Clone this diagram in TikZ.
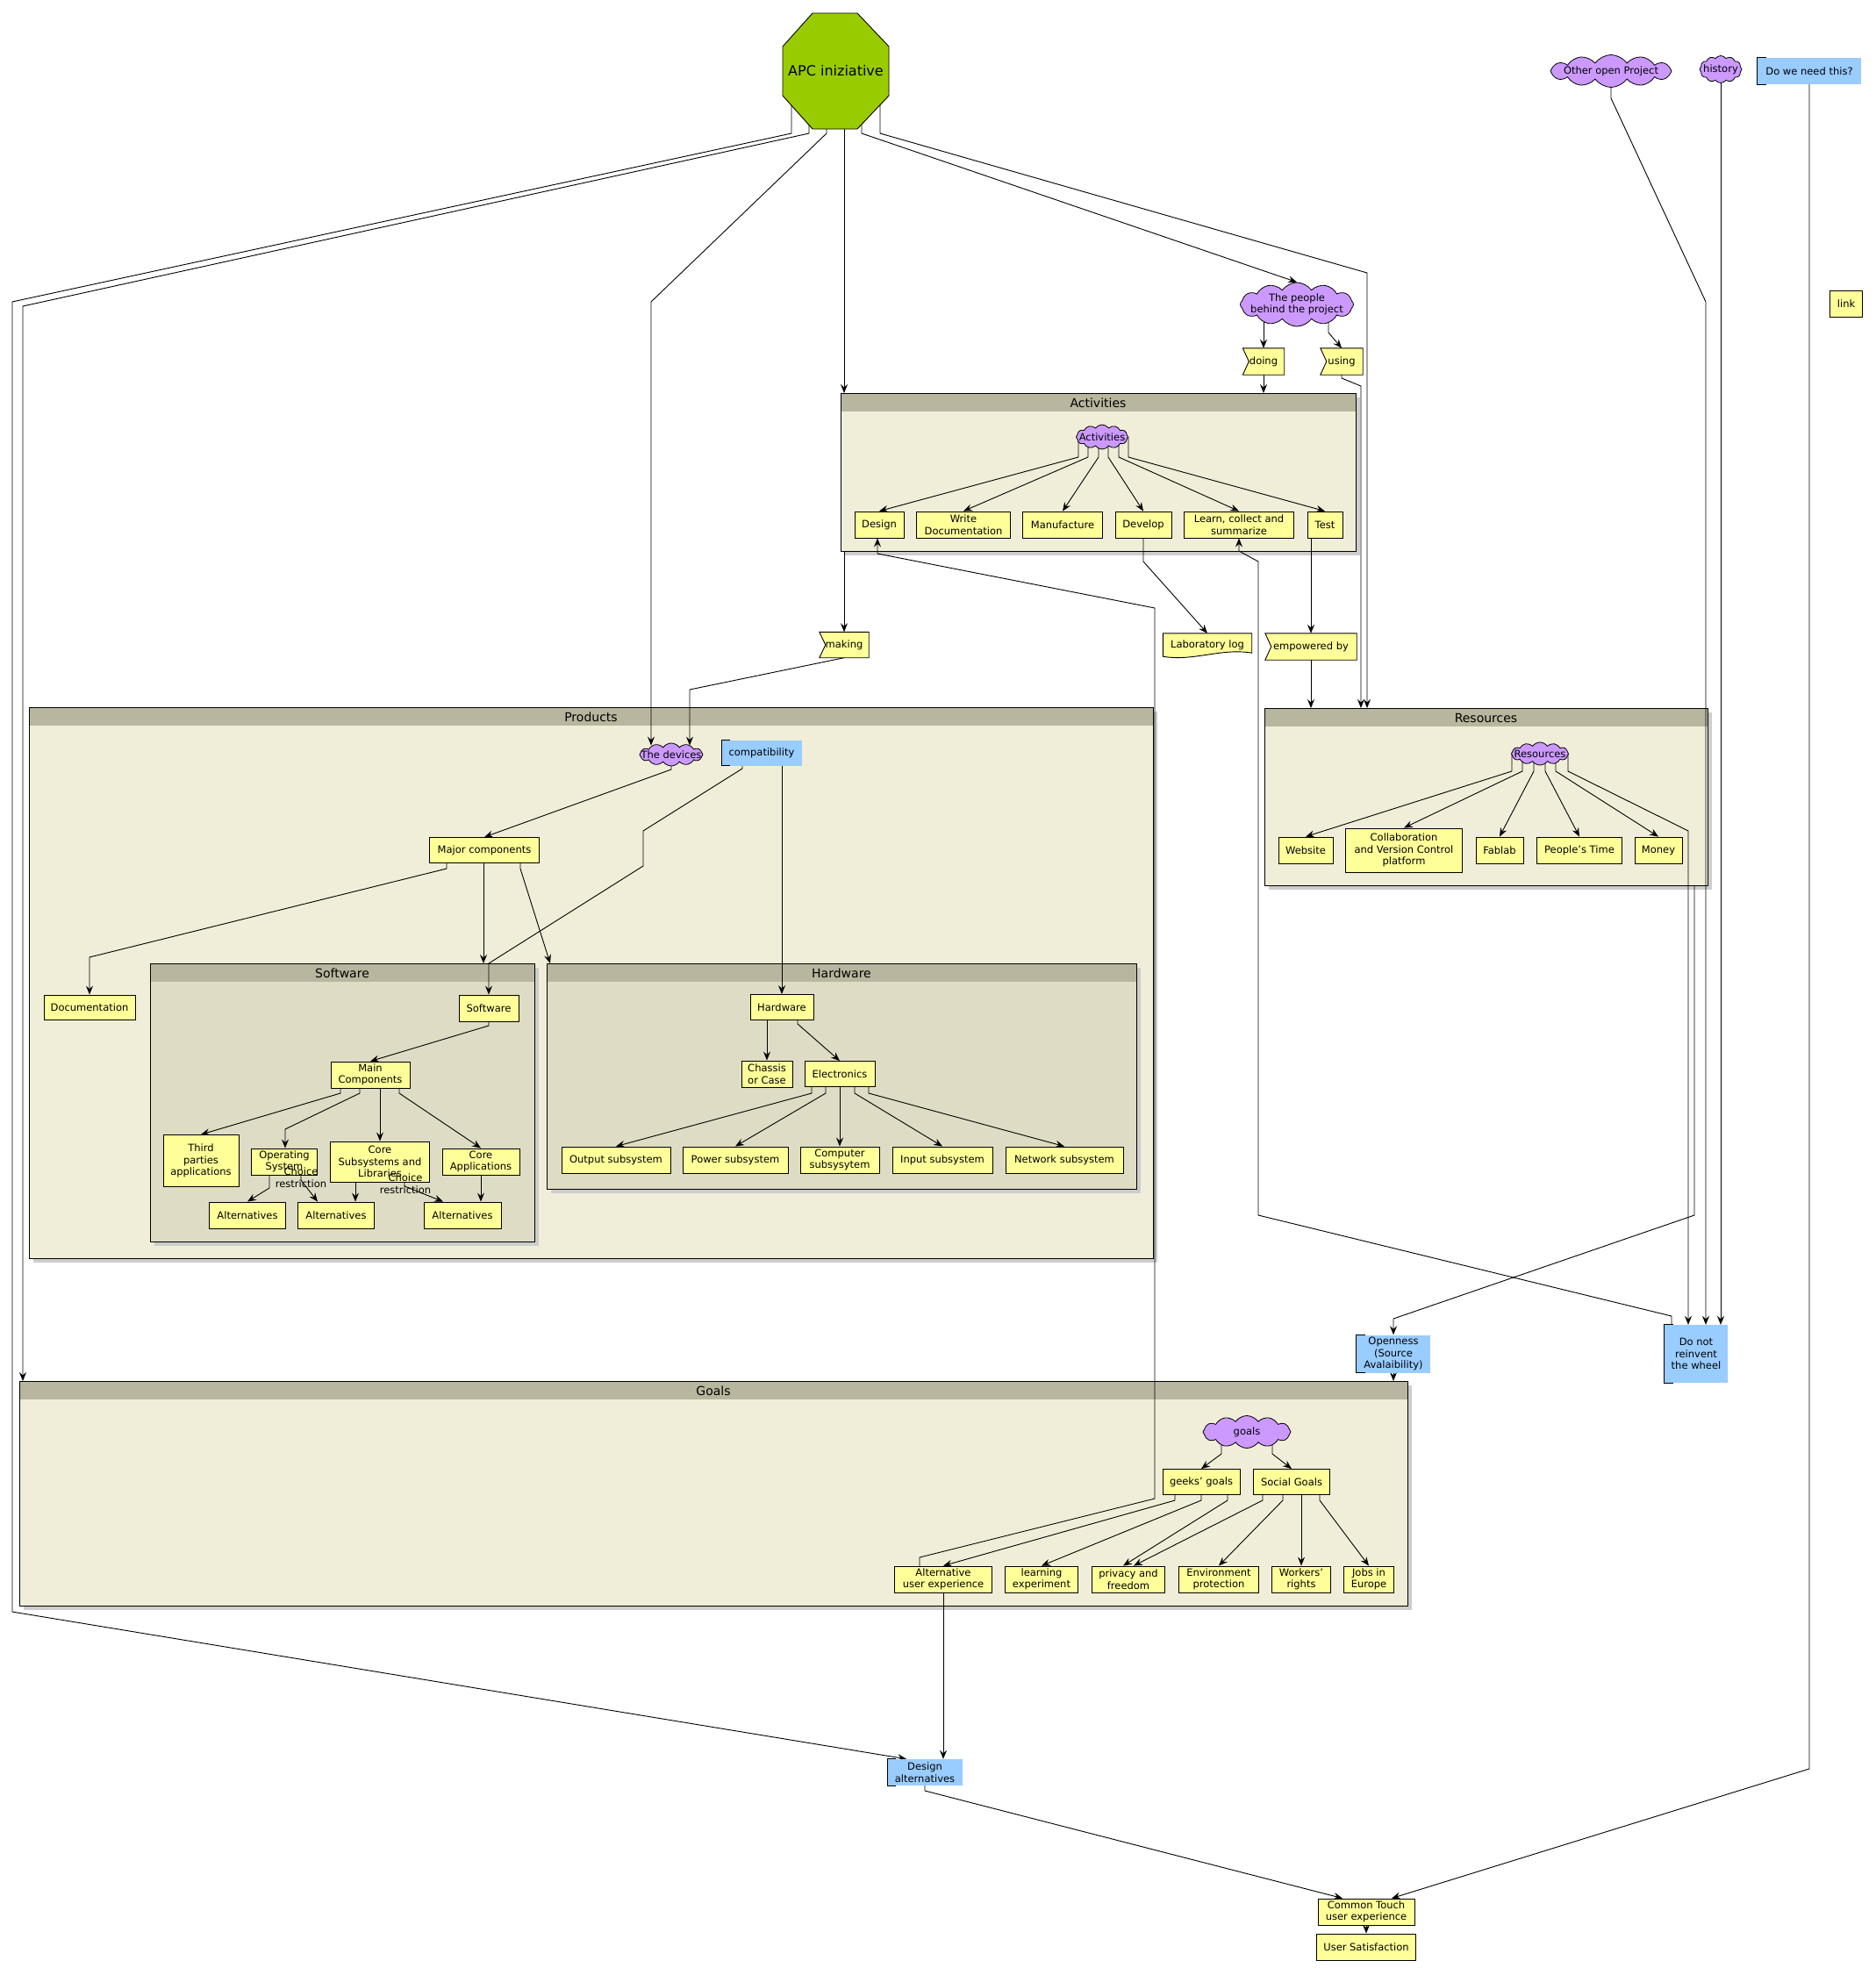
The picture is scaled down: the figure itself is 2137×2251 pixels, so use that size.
\documentclass[tikz,border=0pt]{standalone}
\usepackage{fontspec}
\setmainfont{DejaVu Sans}
\usetikzlibrary{shapes.symbols,arrows.meta,calc}
\definecolor{yel}{HTML}{FFFF99}
\definecolor{purp}{HTML}{CC99FF}
\definecolor{blu}{HTML}{99CCFF}
\definecolor{headc}{HTML}{B8B69E}
\definecolor{bodyc}{HTML}{F0EED8}
\definecolor{innerc}{HTML}{DEDCC4}
\definecolor{apcg}{HTML}{99CC00}
\definecolor{shadowc}{HTML}{CDCDCD}
\pgfdeclarelayer{bg}\pgfdeclarelayer{edges}\pgfdeclarelayer{shapes}
\pgfsetlayers{bg,edges,shapes,main}
\newcommand\nfont{\fontsize{11.5}{13.5}\selectfont}
\newcommand\tfont{\fontsize{14}{16}\selectfont}
\newcommand\afont{\fontsize{16}{18}\selectfont}
\newcommand\mkcluster[7]{%
  \begin{pgfonlayer}{bg}
    \fill[shadowc] (#2+5,#3+5) rectangle (#4+5,#5+5);
    \fill[#7] (#2,#3) rectangle (#4,#5);
    \fill[headc] (#2,#3) rectangle (#4,#3+21);
    \draw[line width=0.9pt] (#2,#3) rectangle (#4,#5);
    \node[font=\tfont, inner sep=0pt] (#1) at ({(#2+#4)/2},#3+11) {#6};
  \end{pgfonlayer}}
\newcommand\flagshape[1]{%
  \begin{pgfonlayer}{shapes}
    \filldraw[fill=yel, line width=0.9pt] (#1.north west) -- (#1.north east) -- (#1.south east) -- (#1.south west) -- ([xshift=7pt]#1.west) -- cycle;
  \end{pgfonlayer}}
\newcommand\docshape[1]{%
  \begin{pgfonlayer}{shapes}
    \filldraw[fill=yel, line width=0.9pt] (#1.north west) -- (#1.north east) -- ([yshift=4pt]#1.south east) .. controls ([xshift=-35pt,yshift=10pt]#1.south east) and ([xshift=35pt,yshift=-6pt]#1.south west) .. (#1.south west) -- cycle;
  \end{pgfonlayer}}
\newcommand\bracketnote[1]{%
  \draw[line width=1pt] ([xshift=10pt]#1.north west) -- (#1.north west) -- (#1.south west) -- ([xshift=10pt]#1.south west);}
\begin{document}
\begin{tikzpicture}[x=1pt,y=-1pt,
  every node/.style={font=\nfont},
  box/.style={draw, fill=yel, line width=0.9pt, inner sep=1pt, align=center},
  wh/.style 2 args={minimum width=#1pt, minimum height=#2pt},
  cl/.style={cloud, cloud puffs=12, cloud puff arc=110, cloud ignores aspect, draw, fill=purp, inner sep=0pt, line width=0.8pt},
  nt/.style={fill=blu, inner sep=1pt, align=center},
  fl/.style={inner sep=1pt, align=center},
  txt/.style={align=center, inner sep=0pt},
  ed/.style={line width=0.9pt, -{Stealth[length=10pt,width=8pt,inset=3.5pt]}}]
\begin{pgfonlayer}{bg}
\fill[white] (0,0) rectangle (2137,2251);
\end{pgfonlayer}
\useasboundingbox (0,0) rectangle (2137,2251);

% clusters
\mkcluster{actc}{958}{448}{1545}{628}{Activities}{bodyc}
\mkcluster{resc}{1441}{807}{1946}{1009}{Resources}{bodyc}
\mkcluster{prodc}{33}{806}{1314}{1434}{Products}{bodyc}
\mkcluster{swc}{171}{1098}{609}{1415}{Software}{innerc}
\mkcluster{hwc}{623}{1098}{1295}{1355}{Hardware}{innerc}
\mkcluster{goalc}{22}{1574}{1604}{1830}{Goals}{bodyc}

% APC octagon
\node[minimum width=121pt, minimum height=132pt, inner sep=0pt] (apc) at (952.5,81) {};
\filldraw[fill=apcg, line width=0.9pt] (926,15) -- (977,15) -- (1013,53) -- (1013,109) -- (977,147) -- (926,147) -- (892,109) -- (892,53) -- cycle;
\node[font=\afont] (apct) at (apc) {APC iniziative};

% top right
\node[cl, wh={138}{37}] (oop) at (1836,81) {};
\node[txt] (oopt) at (oop) {Other open Project};
\node[cl, wh={48}{31}] (hist) at (1961,79) {};
\node[txt] (histt) at (hist) {history};
\node[nt, wh={118}{30}] (dwnt) at (2062,81) {Do we need this?};
\bracketnote{dwnt}
\node[box, wh={37}{30}] (link) at (2104,346) {link};

% people
\node[cl, wh={129}{50}] (people) at (1478,347) {};
\node[txt] (peoplet) at (people) {The people\\behind the project};
\node[fl, wh={47}{30}] (doing) at (1440,412) {doing}; \flagshape{doing}
\node[fl, wh={48}{30}] (using) at (1529,412) {using}; \flagshape{using}

% activities
\node[cl, wh={59}{28}] (acl) at (1256,498) {};
\node[txt] (aclt) at (acl) {Activities};
\node[box, wh={56}{30}] (design) at (1002,598) {Design};
\node[box, wh={107}{30}] (wdoc) at (1098,598) {Write\\Documentation};
\node[box, wh={91}{30}] (manu) at (1211,598) {Manufacture};
\node[box, wh={64}{30}] (develop) at (1303,598) {Develop};
\node[box, wh={125}{30}] (learn) at (1412,598) {Learn, collect and\\summarize};
\node[box, wh={40}{30}] (test) at (1510,598) {Test};

\node[fl, wh={56}{29}] (making) at (962,735) {making}; \flagshape{making}
\node[fl, wh={101}{26}] (lablog) at (1376,735) {Laboratory log}; \docshape{lablog}
\node[fl, wh={104}{30}] (empow) at (1494,737) {empowered by}; \flagshape{empow}

% resources
\node[cl, wh={65}{26}] (rcl) at (1755,859) {};
\node[txt] (rclt) at (rcl) {Resources};
\node[box, wh={62}{30}] (website) at (1488,969) {Website};
\node[box, wh={133}{50}] (collab) at (1600,969) {Collaboration\\and Version Control\\platform};
\node[box, wh={54}{30}] (fablab) at (1709,969) {Fablab};
\node[box, wh={97}{30}] (ptime) at (1800,969) {People's Time};
\node[box, wh={54}{30}] (money) at (1890,969) {Money};

% products
\node[cl, wh={72}{26}] (devices) at (765,860) {};
\node[txt] (devicest) at (devices) {The devices};
\node[nt, wh={91}{29}] (compat) at (868,858) {compatibility};
\bracketnote{compat}
\node[box, wh={125}{29}] (major) at (552,969) {Major components};
\node[box, wh={104}{28}] (docu) at (102,1148) {Documentation};

% software
\node[box, wh={68}{30}] (sw) at (557,1149) {Software};
\node[box, wh={90}{30}] (mainc) at (422,1225) {Main\\Components};
\node[box, wh={86}{59}] (third) at (229,1323) {Third\\parties\\applications};
\node[box, wh={75}{30}] (os) at (324,1324) {Operating\\System};
\node[box, wh={113}{46}] (coresub) at (433,1324) {Core\\Subsystems and\\Libraries};
\node[box, wh={88}{30}] (coreapp) at (548,1324) {Core\\Applications};
\node[box, wh={87}{30}] (alt1) at (282,1385) {Alternatives};
\node[box, wh={87}{30}] (alt2) at (383,1385) {Alternatives};
\node[box, wh={88}{30}] (alt3) at (527,1385) {Alternatives};
\node[txt] (cr1) at (343,1342) {Choice\\restriction};
\node[txt] (cr2) at (462,1349) {Choice\\restriction};

% hardware
\node[box, wh={72}{29}] (hw) at (891,1148) {Hardware};
\node[box, wh={58}{30}] (chassis) at (874,1224) {Chassis\\or Case};
\node[box, wh={80}{29}] (elec) at (957,1224) {Electronics};
\node[box, wh={124}{30}] (outs) at (702,1322) {Output subsystem};
\node[box, wh={120}{30}] (pows) at (838,1322) {Power subsystem};
\node[box, wh={90}{30}] (comps) at (957,1322) {Computer\\subsysytem};
\node[box, wh={114}{30}] (ins) at (1074,1322) {Input subsystem};
\node[box, wh={134}{30}] (nets) at (1213,1322) {Network subsystem};

% goals
\node[cl, wh={100}{37}] (gcl) at (1421,1632) {};
\node[txt] (gclt) at (gcl) {goals};
\node[box, wh={88}{29}] (geeks) at (1369,1689) {geeks' goals};
\node[box, wh={87}{29}] (social) at (1472,1689) {Social Goals};
\node[box, wh={111}{30}] (altux) at (1075,1800) {Alternative\\user experience};
\node[box, wh={83}{30}] (learnexp) at (1187,1800) {learning\\experiment};
\node[box, wh={83}{30}] (privacy) at (1286,1800) {privacy and\\freedom};
\node[box, wh={91}{30}] (envp) at (1389,1800) {Environment\\protection};
\node[box, wh={67}{30}] (workers) at (1483,1800) {Workers'\\rights};
\node[box, wh={57}{30}] (jobs) at (1560,1800) {Jobs in\\Europe};

% right notes
\node[nt, wh={84}{43}] (openness) at (1588,1543) {Openness\\(Source\\Avalaibility)};
\bracketnote{openness}
\node[nt, wh={72}{66}] (dnr) at (1933,1543) {Do not\\reinvent\\the wheel};
\bracketnote{dnr}

% bottom
\node[nt, wh={85}{30}] (desalt) at (1054,2020) {Design\\alternatives};
\bracketnote{desalt}
\node[box, wh={110}{30}] (ctouch) at (1557,2179) {Common Touch\\user experience};
\node[box, wh={113}{30}] (usat) at (1557,2219) {User Satisfaction};

\begin{pgfonlayer}{edges}
% APC
\draw[ed] ([xshift=-50.5pt]apc.center) -- (902,152) -- (14,344) -- (14,1837) -- ([xshift=-21pt]desalt.north);
\draw[ed] ([xshift=-30.5pt]apc.center) -- (922,152) -- (26,349) -- (26,1574);
\draw[ed] ([xshift=-10.5pt]apc.center) -- (942,152) -- (742,344) -- ([xshift=-23pt,yshift=-3pt]devices.north);
\draw[ed] ([xshift=9.5pt]apc.center) -- (962,448);
\draw[ed] ([xshift=29.5pt]apc.center) -- (982,152) -- (people.north);
\draw[ed] ([xshift=50.5pt]apc.center) -- (1003,152) -- (1558,311) -- (1558,807);
% people
\draw[ed] ([xshift=-38pt]people.center) -- (doing.north);
\draw[ed] ([xshift=36pt]people.center) -- (1514,379) -- (using.north);
\draw[ed] (doing.south) -- (1440,448);
\draw[ed] (using.south) -- (1529,431) -- (1551,440) -- (1551,807);
% activities
\draw[ed] ([xshift=-27pt]acl.center) -- (1229,521) -- (design.north);
\draw[ed] ([xshift=-16pt]acl.center) -- (1240,521) -- (wdoc.north);
\draw[ed] ([xshift=-4pt]acl.center) -- (1252,521) -- (manu.north);
\draw[ed] ([xshift=7pt]acl.center) -- (1263,521) -- (develop.north);
\draw[ed] ([xshift=19pt]acl.center) -- (1275,521) -- (learn.north);
\draw[ed] ([xshift=30pt]acl.center) -- (1286,521) -- (test.north);
\draw[ed] (962,628) -- (making.north);
\draw[ed] (develop.south) -- (1303,640) -- (lablog.north);
\draw[ed] ([xshift=-16pt]test.south) -- (empow.north);
\draw[ed] (empow.south) -- (1494,807);
\draw[ed] (making.south) -- (786,786) -- ([xshift=21pt,yshift=-3pt]devices.north);
% resources
\draw[ed] ([xshift=-32pt]rcl.center) -- (1723,879) -- (website.north);
\draw[ed] ([xshift=-20pt]rcl.center) -- (1735,879) -- (collab.north);
\draw[ed] ([xshift=-7pt]rcl.center) -- (1748,879) -- (fablab.north);
\draw[ed] ([xshift=6pt]rcl.center) -- (1761,879) -- (ptime.north);
\draw[ed] ([xshift=18pt]rcl.center) -- (1773,879) -- (money.north);
\draw[ed] ([xshift=32pt]rcl.center) -- (1787,879) -- (1924,947) -- ([xshift=-9pt]dnr.north);
\draw[ed] (1931,1009) -- (1931,1385) -- (1588,1503) -- (openness.north);
% products
\draw[ed] (devices.center) -- (765,877) -- (major.north);
\draw[ed] ([xshift=-22pt]compat.center) -- (846,876) -- (733,947) -- (733,987) -- (557,1098) -- (sw.north);
\draw[ed] ([xshift=23pt]compat.center) -- (hw.north);
\draw[ed] ([xshift=-43pt]major.center) -- (509,990) -- (102,1091) -- (docu.north);
\draw[ed] ([xshift=-1pt]major.center) -- (551,1098);
\draw[ed] ([xshift=41pt]major.center) -- (593,990) -- (627,1098);
% software
\draw[ed] (sw.center) -- (557,1169) -- (mainc.north);
\draw[ed] ([xshift=-34pt]mainc.center) -- (388,1246) -- (third.north);
\draw[ed] ([xshift=-12pt]mainc.center) -- (410,1246) -- (325,1287) -- ([xshift=1pt]os.north);
\draw[ed] ([xshift=11pt]mainc.center) -- (coresub.north);
\draw[ed] ([xshift=33pt]mainc.center) -- (455,1246) -- (coreapp.north);
\draw[ed] ([xshift=-17pt]os.center) -- (307,1354) -- (alt1.north);
\draw[ed] ([xshift=19pt]os.center) -- (343,1345) -- ([xshift=-21pt]alt2.north);
\draw[ed] ([xshift=-28pt]coresub.center) -- ([xshift=22pt]alt2.north);
\draw[ed] ([xshift=28pt]coresub.center) -- (461,1352) -- ([xshift=-22pt]alt3.north);
\draw[ed] (coreapp.south) -- ([xshift=21pt]alt3.north);
% hardware
\draw[ed] ([xshift=-17pt]hw.center) -- (chassis.north);
\draw[ed] ([xshift=18pt]hw.center) -- (909,1167) -- (elec.north);
\draw[ed] ([xshift=-32pt]elec.center) -- (925,1246) -- (outs.north);
\draw[ed] ([xshift=-16pt]elec.center) -- (941,1246) -- (pows.north);
\draw[ed] (elec.center) -- (comps.north);
\draw[ed] ([xshift=17pt]elec.center) -- (974,1246) -- (ins.north);
\draw[ed] ([xshift=33pt]elec.center) -- (990,1246) -- (nets.north);
% goals
\draw[ed] ([xshift=-29pt]gcl.center) -- (1392,1657) -- (geeks.north);
\draw[ed] ([xshift=29pt]gcl.center) -- (1450,1657) -- (social.north);
\draw[ed] ([xshift=-30pt]geeks.center) -- (1339,1710) -- (altux.north);
\draw[ed] (geeks.center) -- (1369,1710) -- (learnexp.north);
\draw[ed] ([xshift=30pt]geeks.center) -- (1399,1710) -- ([xshift=-6pt]privacy.north);
\draw[ed] ([xshift=-33pt]social.center) -- (1439,1710) -- ([xshift=6pt]privacy.north);
\draw[ed] ([xshift=-10pt]social.center) -- (1462,1710) -- (envp.north);
\draw[ed] ([xshift=11pt]social.center) -- (workers.north);
\draw[ed] ([xshift=32pt]social.center) -- (1504,1710) -- (jobs.north);
% long connectors
\draw[ed] ([xshift=-27pt]altux.center) -- (1048,1775) -- (1316,1708) -- (1316,693) -- (1000,631) -- ([xshift=-2pt]design.south);
\draw[ed] (altux.south) -- ([xshift=21pt]desalt.north);
\draw[ed] (openness.south) -- (1588,1574);
\draw[ed] ([xshift=-28pt]dnr.center) -- (1905,1500) -- (1434,1385) -- (1434,640) -- (1412,628) -- (learn.south);
\draw[ed] (oop.center) -- (1836,112) -- (1944,344) -- ([xshift=11pt]dnr.north);
\draw[ed] (hist.center) -- ([xshift=28pt]dnr.north);
\draw[ed] (dwnt.center) -- (2062,2016) -- ([xshift=29pt]ctouch.north);
\draw[ed] (desalt.center) -- (1054,2041) -- ([xshift=-27pt]ctouch.north);
\draw[ed] (ctouch.south) -- (usat.north);
\end{pgfonlayer}
\end{tikzpicture}
\end{document}
